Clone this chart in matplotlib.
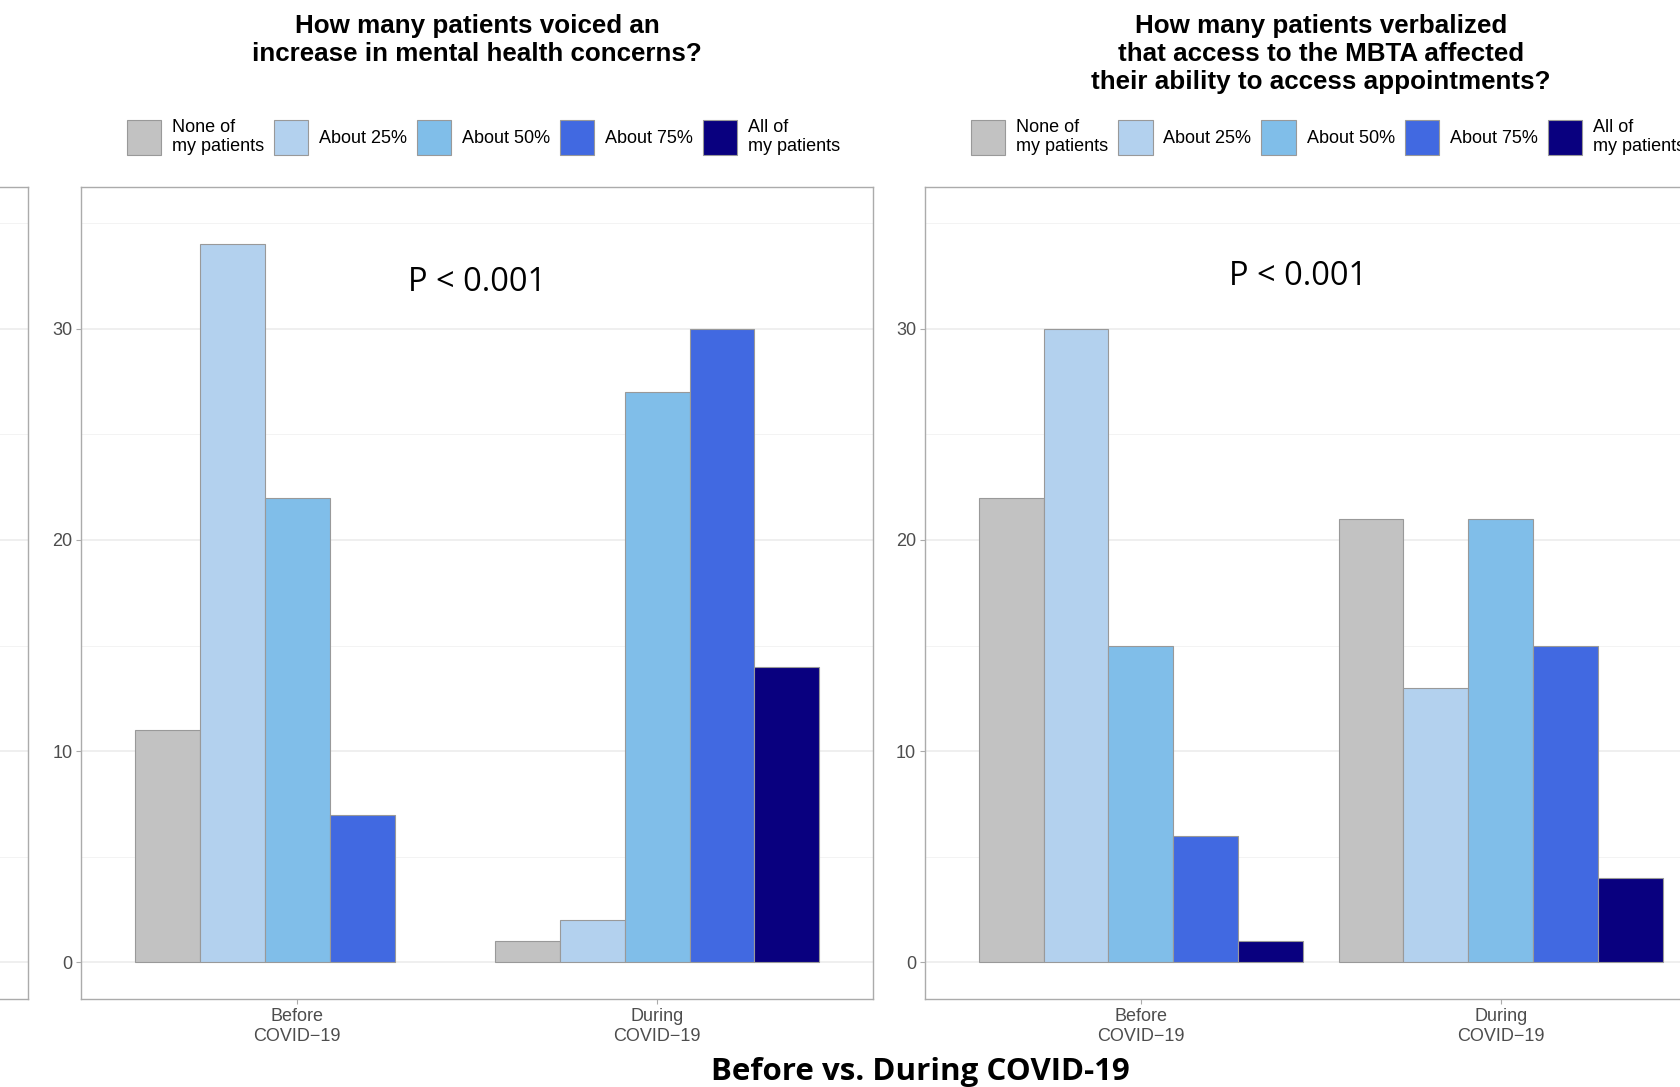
import numpy as np
import matplotlib.pyplot as plt
from matplotlib.patches import Patch

plt.rcParams['font.family'] = ['Liberation Sans', 'DejaVu Sans']

# data
groups = ["Before\nCOVID\u221219", "During\nCOVID\u221219"]
levels = ["None of\nmy patients", "About 25%", "About 50%", "About 75%", "All of\nmy patients"]
colors = ["#C2C2C2", "#B3D1EE", "#80BEE9", "#4169E1", "#09007F"]

mental_before = [11, 34, 22, 7, 0]
mental_during = [1, 2, 27, 30, 14]
mbta_before = [22, 30, 15, 6, 1]
mbta_during = [21, 13, 21, 15, 4]

title_left = "How many patients voiced an\nincrease in mental health concerns?"
title_right = ("How many patients verbalized\nthat access to the MBTA affected\n"
               "their ability to access appointments?")
p_label = "P < 0.001"

W, H = 1681, 1087
fig = plt.figure(figsize=(W / 100, H / 100), dpi=100)

ylim = (-1.73, 36.7)
xlim = (0.4, 2.6)
edge = "#999999"
grid_major = "#EBEBEB"
grid_minor = "#F3F3F3"
spine_col = "#ABABAB"


def style_axes(ax, labels=True):
    ax.set_xlim(*xlim)
    ax.set_ylim(*ylim)
    ax.set_yticks([0, 10, 20, 30])
    ax.set_yticks([5, 15, 25, 35], minor=True)
    ax.grid(axis="y", which="major", color=grid_major, lw=1.1, zorder=0)
    ax.grid(axis="y", which="minor", color=grid_minor, lw=0.7, zorder=0)
    ax.set_axisbelow(True)
    for s in ax.spines.values():
        s.set_color(spine_col)
        s.set_linewidth(1.0)
    ax.tick_params(axis="both", which="major", length=3.5, width=0.8, color=spine_col,
                   labelsize=13, labelcolor="#4D4D4D", pad=3)
    ax.tick_params(axis="y", which="minor", length=0)
    ax.set_xticks([1, 2])
    if labels:
        ax.set_xticklabels(groups, linespacing=1.25)
    else:
        ax.tick_params(labelleft=False, labelbottom=False)


def draw_panel(ax, before, during, title, p_xy, legend_cx):
    style_axes(ax)
    counts = np.array([before, during])
    x = np.arange(1, 3)
    w = 0.18
    for i, col in enumerate(colors):
        bars = ax.bar(x + (i - 2) * w, counts[:, i], width=w, color=col,
                      edgecolor=edge, linewidth=0.8, zorder=2)
        for b in bars:
            if b.get_height() == 0:
                b.set_visible(False)
    ax.text(p_xy[0], p_xy[1], p_label, ha="center", va="center",
            fontsize=23.5, family=["Open Sans", "DejaVu Sans"], color="black")
    bb = ax.get_position()
    fig.text((bb.x0 + bb.x1) / 2, 1 - 14 / H, title, ha="center", va="top",
             fontsize=18.7, fontweight="bold", linespacing=1.2)
    handles = [Patch(facecolor=c, edgecolor=edge, linewidth=0.8) for c in colors]
    leg = ax.legend(handles, levels, ncol=5, loc="center",
                    bbox_to_anchor=(legend_cx / W, 1 - 137 / H),
                    bbox_transform=fig.transFigure, frameon=False, fontsize=13,
                    handlelength=1.9, handleheight=2.6, handletextpad=0.6,
                    columnspacing=0.55, borderpad=0, borderaxespad=0)
    for t in leg.get_texts():
        t.set_linespacing(1.2)


ax_w = 791.5 / W
ax_h = 812 / H
ax_y = 1 - 999 / H

# partial panel cut off at the left edge
ax0 = fig.add_axes([(28 - 791.5) / W, ax_y, ax_w, ax_h])
style_axes(ax0, labels=False)

ax1 = fig.add_axes([81.5 / W, ax_y, ax_w, ax_h])
draw_panel(ax1, mental_before, mental_during, title_left, (1.5, 32.2), 483.5)

ax2 = fig.add_axes([925 / W, ax_y, ax_w, ax_h])
draw_panel(ax2, mbta_before, mbta_during, title_right, (1.437, 32.45), 1328)

fig.text(920 / W, 1 - 1072 / H, "Before vs. During COVID-19", ha="center", va="center",
         fontsize=22.5, fontweight="bold", family=["Open Sans", "DejaVu Sans"])

fig.savefig("out.png", dpi=100)
